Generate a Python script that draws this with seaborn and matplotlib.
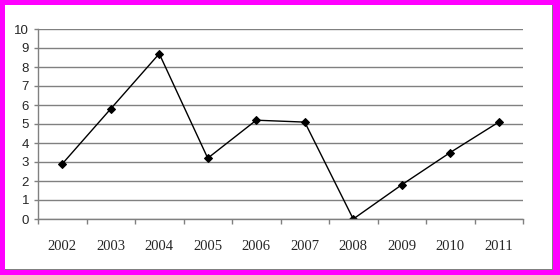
import matplotlib
matplotlib.use("Agg")
import matplotlib.pyplot as plt
import seaborn as sns
import numpy as np
from matplotlib.patches import Rectangle
from matplotlib.ticker import FixedLocator, MultipleLocator

years = [2002, 2003, 2004, 2005, 2006, 2007, 2008, 2009, 2010, 2011]
values = [2.9, 5.8, 8.7, 3.2, 5.2, 5.1, 0.0, 1.8, 3.5, 5.1]
year_labels = [str(y) for y in years]

sns.set_theme(style="white")

W, H = 560, 275
fig = plt.figure(figsize=(W / 100, H / 100), dpi=100)
fig.patch.set_facecolor("#ff00ff")

# white inner panel with gray shadow edges
fig.patches.append(Rectangle((5 / W, 1 - 270 / H), 548 / W, 265 / H,
                             transform=fig.transFigure, facecolor="#808080",
                             edgecolor="none", zorder=-2))
fig.patches.append(Rectangle((5 / W, 1 - 269 / H), 547 / W, 264 / H,
                             transform=fig.transFigure, facecolor="white",
                             edgecolor="none", zorder=-1))

ax = fig.add_axes([38 / W, 56 / H, (523 - 38) / W, (219 - 29) / H])
ax.set_facecolor("none")

sns.lineplot(x=years, y=values, ax=ax, color="black", linewidth=1.0,
             marker="D", markersize=4.5, markeredgecolor="black",
             markerfacecolor="black")

ax.set_xlim(years[0] - 0.5, years[-1] + 0.5)
ax.set_ylim(0, 10)
ax.yaxis.set_major_locator(MultipleLocator(1))
ax.grid(axis="y", color="#808080", linewidth=1.0)
ax.set_axisbelow(True)

# category boundary ticks (major), labels at centers (minor)
ax.xaxis.set_major_locator(FixedLocator([y - 0.5 for y in years] + [years[-1] + 0.5]))
ax.set_xticklabels([])
ax.set_xticks(years, minor=True)
ax.set_xticklabels(year_labels, minor=True, family="Liberation Serif", fontsize=10.5)

ax.tick_params(axis="x", which="major", length=3.6, width=1, color="#808080",
               direction="out", bottom=True)
ax.tick_params(axis="x", which="minor", length=0, pad=15, bottom=True)
ax.tick_params(axis="y", length=3, width=1, color="#808080", direction="out",
               pad=3.5, left=True, labelsize=9.5)
for lbl in ax.get_yticklabels():
    lbl.set_family("Liberation Sans")

for s in ["top", "right"]:
    ax.spines[s].set_visible(False)
for s in ["left", "bottom"]:
    ax.spines[s].set_color("#808080")
    ax.spines[s].set_linewidth(1.0)

ax.set_xlabel("")
ax.set_ylabel("")

fig.savefig("out.png", dpi=100, facecolor=fig.get_facecolor())
